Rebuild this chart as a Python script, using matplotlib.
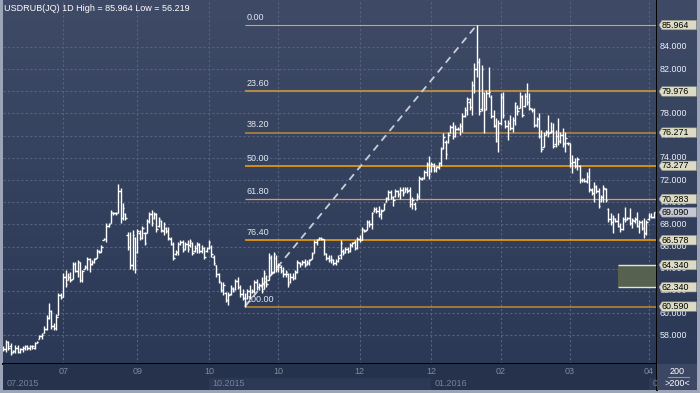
import numpy as np
import matplotlib.pyplot as plt
from matplotlib.colors import LinearSegmentedColormap
from matplotlib.patches import Polygon, Rectangle

plt.rcParams['font.family'] = ['Liberation Sans', 'DejaVu Sans']

# daily OHLC bars, 07.2015 .. 04.2016
highs = [
    57.0, 57.6, 57.5, 57.3, 56.7, 57.1, 57.1, 56.9, 57.0, 57.1,
    57.1, 57.1, 57.1, 57.4, 57.5, 58.0, 58.2, 58.8, 59.8, 60.9,
    60.3, 59.1, 59.9, 61.8, 61.85, 63.6, 63.9, 63.6, 63.7, 64.6,
    64.6, 64.8, 64.6, 63.9, 64.3, 65.1, 65.0, 64.8, 65.0, 65.8,
    65.7, 66.1, 66.75, 68.1, 68.1, 69.3, 69.1, 69.15, 71.6, 71.25,
    69.9, 69.0, 67.3, 67.3,
    67.5, 66.9, 67.6, 67.5, 67.9, 67.3, 68.5, 69.1, 69.3, 69.1,
    69.0, 68.7, 68.4, 68.2, 67.8, 67.8, 66.9, 66.4, 65.7, 66.4,
    66.6, 66.6, 66.4, 66.6, 66.7, 66.4, 66.1, 66.4, 66.3, 66.1,
    66.0, 66.0, 66.6, 66.1, 65.2, 64.3, 63.6, 62.8, 62.8, 61.9,
    61.9, 62.5, 62.4, 63.1, 63.3, 62.5, 62.2, 61.8, 62.2, 62.5,
    62.2, 63.0, 63.1, 62.7, 63.3, 63.9,
    63.4, 65.4, 65.2, 65.5, 65.2, 64.5, 64.3, 64.2, 63.9, 63.6,
    63.6, 63.6, 63.9, 64.8, 64.6, 64.8, 64.9, 64.8, 64.9, 65.5,
    66.6, 66.7, 66.9, 66.9, 66.7, 65.4, 65.2, 65.2, 64.9, 64.9,
    65.2, 66.6, 65.8, 66.0, 66.0, 66.3, 66.4, 66.6, 66.9, 67.0,
    67.8, 67.6, 68.4, 68.4, 69.1, 69.6, 69.6, 69.7, 69.4, 69.9,
    70.5, 71.1, 71.1, 70.6,
    71.2, 71.1, 71.4, 71.4, 71.4, 71.4, 71.4, 70.5, 70.0, 70.8,
    72.4, 72.3, 72.9, 73.6, 74.2, 73.6, 73.5, 73.3, 73.6, 75.0,
    76.2, 75.6, 76.3, 76.95, 77.2, 76.95, 76.8, 77.1, 78.0, 78.6,
    79.5, 79.35, 80.9, 82.5, 85.964, 82.96, 82.4, 79.95, 80.1, 82.2,
    79.65, 78.3, 77.6, 77.4, 79.8, 79.95, 77.4, 77.4, 77.85, 77.7,
    79.05, 78.75, 79.95,
    79.66, 79.8, 80.7, 79.8, 78.45, 78.45, 77.7, 78.0, 76.5, 76.35,
    76.5, 77.85, 77.25, 77.1, 76.5, 77.55, 76.35, 76.65, 76.35, 75.45,
    75.3, 74.25, 73.95, 74.1, 73.35, 72.15, 72.15, 72.75, 73.05, 71.25,
    71.85, 71.55, 71.25, 70.65, 71.55, 71.25, 69.45, 69.0, 68.85, 68.55,
    69.0, 68.1, 68.7, 69.6, 68.7, 69.45, 68.55, 68.7, 69.15, 68.4,
    68.4, 68.55, 68.4, 69.0, 69.0, 69.15,
]
lows = [
    56.6, 56.5, 56.7, 56.2, 56.4, 56.4, 56.4, 56.4, 56.5, 56.7,
    56.7, 56.7, 56.8, 56.8, 57.3, 57.7, 57.7, 58.2, 58.5, 59.5,
    58.6, 58.5, 58.5, 59.8, 61.3, 61.5, 62.4, 63.0, 62.8, 63.1,
    63.7, 63.3, 62.8, 62.8, 64.0, 63.9, 63.7, 64.3, 64.5, 65.0,
    65.4, 65.5, 66.6, 66.4, 67.8, 68.1, 68.85, 68.85, 69.0, 68.1,
    68.4, 68.4, 65.7, 64.0,
    63.9, 63.6, 65.4, 66.6, 66.7, 66.1, 67.2, 68.1, 67.9, 68.5,
    67.3, 67.8, 67.3, 67.0, 67.2, 66.6, 66.1, 64.8, 65.2, 65.2,
    66.1, 65.5, 65.7, 65.5, 66.0, 65.2, 65.5, 65.4, 65.4, 65.4,
    64.9, 65.5, 65.8, 65.1, 64.3, 63.3, 62.7, 61.9, 61.6, 61.0,
    60.7, 61.6, 61.9, 62.1, 62.2, 61.5, 61.2, 60.59, 61.3, 61.3,
    61.8, 61.8, 62.1, 62.1, 61.8, 62.2,
    62.4, 63.0, 63.4, 63.6, 63.7, 63.7, 63.6, 63.3, 63.3, 62.4,
    62.7, 63.0, 63.1, 63.6, 64.2, 64.3, 64.2, 64.3, 64.3, 64.9,
    65.4, 66.1, 66.6, 66.6, 65.2, 64.8, 64.6, 64.5, 64.3, 64.3,
    64.6, 64.9, 65.2, 65.4, 65.4, 65.5, 66.0, 65.7, 65.8, 66.4,
    66.6, 67.3, 67.5, 67.8, 67.6, 69.1, 69.0, 68.7, 68.5, 69.3,
    70.0, 70.2, 70.3, 69.7,
    70.5, 70.5, 70.3, 70.6, 70.9, 70.8, 69.6, 69.4, 69.3, 70.2,
    70.3, 72.0, 72.1, 72.4, 72.1, 72.7, 72.7, 72.7, 73.0, 73.3,
    74.8, 73.9, 75.3, 76.2, 75.7, 75.9, 76.5, 76.1, 76.3, 77.7,
    77.9, 78.3, 77.9, 79.8, 81.3, 77.9, 78.2, 76.2, 78.3, 79.5,
    77.6, 76.8, 75.4, 74.55, 76.95, 77.6, 76.65, 75.6, 76.5, 76.35,
    76.95, 77.85, 78.45,
    77.7, 78.6, 78.76, 78.3, 78.15, 76.8, 76.8, 75.75, 74.55, 75.0,
    76.05, 75.9, 76.2, 74.85, 75.0, 75.15, 75.3, 75.0, 74.55, 75.15,
    73.2, 72.6, 73.05, 72.9, 71.7, 71.85, 71.85, 71.7, 70.95, 70.65,
    70.05, 70.8, 69.45, 70.05, 70.05, 70.05, 68.25, 67.95, 67.2, 68.25,
    67.8, 67.35, 67.5, 68.25, 68.4, 67.95, 67.65, 68.1, 67.8, 67.2,
    67.5, 66.75, 67.05, 68.4, 68.55, 68.55,
]
opens = [
    56.8, 56.8, 57.4, 57.0, 56.5, 56.6, 56.9, 56.5, 56.8, 56.9,
    57.0, 56.9, 57.0, 56.9, 57.3, 57.7, 57.9, 58.2, 58.6, 59.6,
    60.2, 58.8, 58.7, 59.8, 61.6, 61.5, 63.3, 63.0, 63.3, 63.1,
    64.4, 63.8, 64.6, 63.0, 64.0, 64.2, 64.9, 64.4, 64.6, 65.0,
    65.6, 65.5, 66.6, 66.7, 67.9, 68.1, 69.0, 69.0, 69.0, 71.0,
    68.6, 68.9, 67.0, 66.0,
    64.3, 66.8, 65.5, 67.2, 66.8, 67.2, 67.2, 68.3, 68.9, 68.6,
    68.9, 67.9, 68.3, 67.4, 67.7, 67.4, 66.7, 66.2, 65.3, 65.5,
    66.2, 66.4, 65.8, 66.2, 66.1, 66.3, 65.6, 65.9, 66.1, 65.6,
    65.9, 65.6, 65.9, 66.0, 65.1, 64.3, 63.5, 62.8, 62.1, 61.8,
    61.2, 61.7, 62.2, 62.2, 62.9, 62.4, 61.7, 61.4, 61.4, 62.0,
    61.9, 62.0, 62.8, 62.4, 62.5, 62.2,
    63.2, 63.0, 65.0, 63.7, 65.0, 64.0, 64.2, 63.9, 63.5, 63.5,
    62.8, 63.3, 63.2, 63.7, 64.5, 64.4, 64.6, 64.4, 64.5, 64.9,
    65.4, 66.4, 66.7, 66.8, 66.7, 65.3, 65.0, 64.8, 64.8, 64.5,
    64.7, 65.2, 65.6, 65.5, 65.8, 65.6, 66.1, 66.4, 65.9, 66.7,
    66.6, 67.5, 67.5, 68.2, 68.0, 69.2, 69.4, 69.2, 68.9, 69.3,
    70.0, 70.4, 70.9, 70.5,
    70.6, 71.0, 70.7, 71.1, 70.9, 71.2, 71.1, 69.8, 69.8, 70.2,
    70.5, 72.1, 72.2, 72.7, 73.4, 72.8, 73.3, 72.9, 73.2, 73.5,
    74.9, 75.4, 75.4, 76.2, 76.8, 76.0, 76.6, 76.6, 76.9, 77.8,
    78.3, 79.0, 78.6, 80.6, 82.0, 82.6, 78.4, 79.8, 78.4, 79.8,
    79.5, 77.8, 76.9, 75.5, 77.1, 79.5, 77.3, 76.9, 77.1, 76.7,
    77.4, 78.6, 78.5,
    79.5, 78.7, 79.6, 79.0, 78.4, 78.3, 77.0, 77.5, 76.0, 75.0,
    76.1, 76.3, 76.3, 76.4, 75.2, 76.0, 75.5, 76.1, 75.2, 75.3,
    75.3, 73.5, 73.6, 73.3, 73.3, 72.0, 72.0, 71.9, 72.3, 71.1,
    70.8, 71.4, 71.0, 70.1, 70.5, 71.2, 69.4, 68.5, 68.2, 68.5,
    68.3, 67.9, 67.6, 68.5, 68.5, 68.6, 68.1, 68.3, 68.5, 67.9,
    68.2, 67.7, 67.2, 68.5, 68.8, 68.7,
]
closes = [
    56.8, 57.4, 56.9, 56.4, 56.6, 56.9, 56.5, 56.8, 56.9, 57.0,
    56.9, 57.0, 57.0, 57.3, 57.4, 57.9, 58.0, 58.6, 59.6, 60.2,
    58.8, 58.7, 59.7, 61.6, 61.5, 63.3, 62.6, 63.3, 63.0, 64.4,
    63.8, 64.6, 63.0, 63.8, 64.2, 64.9, 64.4, 64.6, 64.9, 65.6,
    65.5, 66.0, 66.7, 67.9, 68.0, 69.1, 69.0, 69.0, 71.0, 68.6,
    69.5, 68.6, 66.0, 64.3,
    67.0, 64.0, 67.4, 66.8, 67.7, 66.3, 68.3, 68.9, 68.1, 68.9,
    67.6, 68.5, 67.5, 68.0, 67.4, 66.8, 66.2, 65.0, 65.5, 66.2,
    66.4, 65.7, 66.2, 65.8, 66.5, 65.4, 65.9, 66.2, 65.6, 65.9,
    65.1, 65.9, 66.4, 65.3, 64.5, 63.5, 62.9, 62.1, 62.5, 61.2,
    61.6, 62.3, 62.0, 62.9, 62.4, 61.7, 61.4, 61.0, 62.0, 61.5,
    62.0, 62.8, 62.4, 62.5, 62.0, 63.6,
    62.6, 65.1, 63.6, 65.3, 64.0, 64.3, 63.8, 63.5, 63.7, 62.6,
    63.3, 63.2, 63.7, 64.6, 64.4, 64.6, 64.3, 64.6, 64.8, 65.3,
    66.4, 66.6, 66.8, 66.7, 65.4, 65.0, 64.8, 64.9, 64.5, 64.7,
    65.0, 66.3, 65.4, 65.8, 65.6, 66.1, 66.3, 65.9, 66.7, 66.6,
    67.6, 67.4, 68.2, 68.0, 69.0, 69.4, 69.2, 68.9, 69.2, 69.8,
    70.4, 70.9, 70.5, 70.2,
    71.0, 70.7, 71.1, 70.8, 71.2, 71.0, 69.8, 70.2, 69.5, 70.6,
    72.2, 72.2, 72.7, 73.4, 72.5, 73.4, 72.9, 73.2, 73.5, 74.8,
    75.9, 74.3, 76.1, 76.8, 76.0, 76.6, 76.6, 76.9, 77.8, 78.3,
    79.3, 78.6, 80.6, 82.0, 82.6, 78.2, 82.0, 78.3, 79.8, 79.9,
    77.8, 77.0, 75.7, 77.1, 79.5, 77.9, 76.9, 77.1, 76.7, 77.4,
    78.9, 78.2, 79.6,
    77.9, 79.6, 79.0, 78.5, 78.3, 77.0, 77.5, 76.0, 74.8, 76.1,
    76.3, 76.2, 76.4, 75.1, 76.0, 75.5, 76.1, 75.3, 75.8, 75.3,
    73.5, 73.6, 73.3, 73.9, 72.0, 72.0, 71.9, 72.4, 71.2, 70.8,
    71.5, 71.0, 69.7, 70.5, 71.3, 70.2, 68.5, 68.2, 68.6, 68.3,
    67.9, 67.6, 68.5, 68.4, 68.6, 68.1, 68.4, 68.5, 67.9, 68.2,
    67.7, 67.2, 68.2, 68.8, 68.7, 69.09,
]

title = "USDRUB(JQ) 1D High = 85.964 Low = 56.219"

fib_levels = [85.964, 79.976, 76.271, 73.277, 70.283, 66.578, 60.590]
fib_names = ["0.00", "23.60", "38.20", "50.00", "61.80", "76.40", "100.00"]
fib_low_bar = 101    # bar of the 60.590 low
fib_high_bar = 198   # bar of the 85.964 high

zone_top, zone_bottom = 64.340, 62.340
zone_start_bar = 257
last_price = 69.090

tick_pos = [25, 56, 86, 115, 149, 179, 208, 237, 270]
tick_labels = ["07", "09", "10", "10", "12", "12", "02", "03", "04"]
period_pos = [0, 86, 179, 270]
period_labels = ["07.2015", "10.2015", "01.2016", "04.2016"]
price_ticks = np.arange(58, 85, 2)

# ---------------------------------------------------------------
W, H = 700, 393
fig = plt.figure(figsize=(7, 3.93), dpi=100, facecolor='#9ca5b7')


def box(x0, y0, w, h):
    return [x0 / W, 1 - (y0 + h) / H, w / W, h / H]


ymin, ymax = 55.42, 88.22
xmin, xmax = -0.2, 273.4
bg = LinearSegmentedColormap.from_list('bg', ['#3e4a66', '#2b3956'])
grad = np.linspace(0, 1, 256).reshape(-1, 1)
grid_kw = dict(colors='#56637f', linestyles=(0, (2, 2)), lw=0.8)
fs = 6.5

# main price panel
ax = fig.add_axes(box(3, 0, 654, 364))
ax.imshow(grad, cmap=bg, aspect='auto', extent=[xmin, xmax, ymin, ymax], zorder=0)
ax.set_xlim(xmin, xmax)
ax.set_ylim(ymin, ymax)
ax.set_xticks([])
ax.set_yticks([])
for s in ['top', 'left']:
    ax.spines[s].set_visible(False)
for s in ['bottom', 'right']:
    ax.spines[s].set_color('black')
    ax.spines[s].set_linewidth(1.4)
ax.hlines(price_ticks, xmin, xmax, zorder=1, **grid_kw)
ax.vlines(tick_pos, ymin, ymax, zorder=1, **grid_kw)

# fibonacci retracement
fib_colors = ['#f2a31a', '#b08a44', '#b8893c', '#ffa500', '#e8a02a', '#ffa500', '#c08a34']
fib_widths = [0.8, 1.5, 1.1, 1.1, 0.9, 1.1, 1.1]
for lvl, name, c, lw in zip(fib_levels, fib_names, fib_colors, fib_widths):
    ax.hlines(lvl, fib_low_bar, xmax, colors=c, lw=lw, zorder=2)
    ax.text(fib_low_bar + 0.7, lvl + 0.28, name, color='#e4e8f0', fontsize=fs,
            ha='left', va='bottom', zorder=5)
ax.plot([fib_low_bar, fib_high_bar], [fib_levels[-1], fib_levels[0]],
        color='#c9cdd6', lw=1.3, dashes=(4, 3), zorder=3)

# highlighted zone
ax.add_patch(Rectangle((zone_start_bar, zone_bottom), xmax - zone_start_bar,
                       zone_top - zone_bottom, fc='#56614f', ec='none', zorder=2))
ax.hlines([zone_top, zone_bottom], zone_start_bar, xmax, colors='#dfe6d8', lw=1.0, zorder=2)

# OHLC bars
idx = np.arange(len(highs))
ax.vlines(idx, lows, highs, colors='white', lw=1.0, zorder=4)
ax.hlines(opens, idx - 0.6, idx, colors='white', lw=1.0, zorder=4)
ax.hlines(closes, idx, idx + 0.6, colors='white', lw=1.0, zorder=4)

fig.text(4 / W, 1 - 8.5 / H, title, color='white', fontsize=fs, va='center', ha='left')

# time axis
axb = fig.add_axes(box(3, 364, 654, 26))
axb.set_facecolor('#26314b')
axb.set_xlim(xmin, xmax)
axb.set_ylim(0, 26)
axb.set_xticks([])
axb.set_yticks([])
for s in ['top', 'left', 'bottom']:
    axb.spines[s].set_visible(False)
axb.spines['right'].set_color('black')
axb.spines['right'].set_linewidth(1.4)
ends = period_pos[1:] + [xmax]
for k, (p0, p1, lab) in enumerate(zip(period_pos, ends, period_labels)):
    if k % 2 == 1:
        axb.add_patch(Rectangle((p0, 0), p1 - p0, 12.5, fc='#2c3955', ec='none'))
    axb.text(p0 + 1.5, 6, lab, color='#76829c', fontsize=fs, ha='left', va='center', clip_on=True)
for p, lab in zip(tick_pos, tick_labels):
    axb.text(p, 18.5, lab, color='#7e89a2', fontsize=fs, ha='center', va='center')

# price scale
axr = fig.add_axes(box(657, 0, 40, 364))
axr.imshow(grad, cmap=bg, aspect='auto', extent=[0, 40, ymin, ymax], zorder=0)
axr.set_xlim(0, 40)
axr.set_ylim(ymin, ymax)
axr.axis('off')
for p in price_ticks:
    axr.text(3, p, f'{p:.3f}', color='#eef1f6', fontsize=fs - 0.1, va='center', ha='left')


def tag(level, fc):
    hh = 0.43
    axr.add_patch(Polygon([(2, level), (5, level + hh), (39.5, level + hh),
                           (39.5, level - hh), (5, level - hh)],
                          closed=True, fc=fc, ec='#8e8e80', lw=0.4, zorder=3))
    axr.text(4.8, level, f'{level:.3f}', color='black', fontsize=fs - 0.1,
             va='center', ha='left', zorder=4)


for lvl in fib_levels + [zone_top, zone_bottom]:
    tag(lvl, '#dcdcc6')
tag(last_price, '#c4c8d4')

# corner box
axc = fig.add_axes(box(657, 364, 40, 26))
axc.set_facecolor('#3c4764')
axc.set_xlim(0, 40)
axc.set_ylim(0, 26)
axc.set_xticks([])
axc.set_yticks([])
for s in axc.spines.values():
    s.set_visible(False)
axc.text(20.5, 18.5, '200', color='white', fontsize=fs, ha='center', va='center')
axc.text(20.5, 6.5, '>200<', color='white', fontsize=fs, ha='center', va='center')
axc.plot([11, 32], [12.6, 12.6], color='#8a94aa', lw=0.8)

fig.savefig('out.png', dpi=100, facecolor=fig.get_facecolor())
